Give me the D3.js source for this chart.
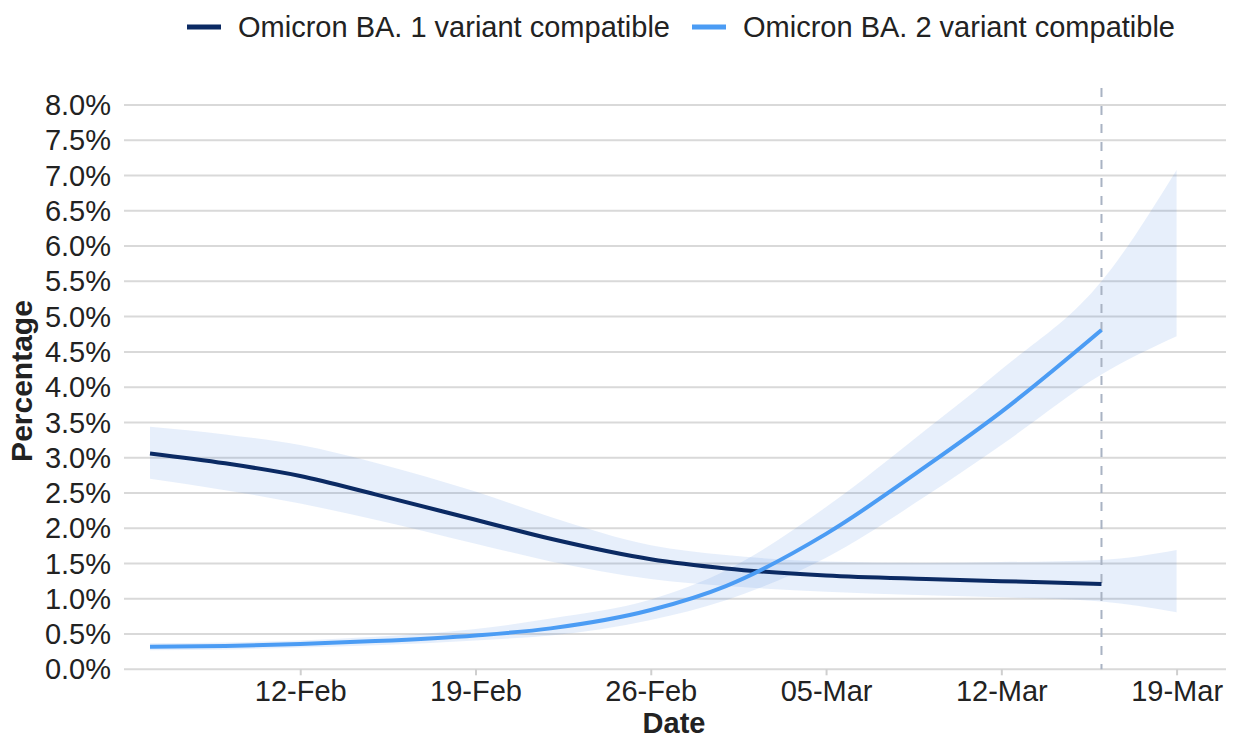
<!DOCTYPE html>
<html>
<head>
<meta charset="utf-8">
<script src="https://cdn.jsdelivr.net/npm/d3@7"></script>
<style>
  body { margin: 0; background: #fff; }
  text { font-family: "Liberation Sans", Arial, sans-serif; }
</style>
</head>
<body>
<div id="chart"></div>
<script>
// Data (percent)
const dates = ["2022-02-06", "2022-02-09", "2022-02-12", "2022-02-15", "2022-02-19", "2022-02-22",
               "2022-02-26", "2022-03-01", "2022-03-05", "2022-03-09", "2022-03-12", "2022-03-16", "2022-03-19"];

const ba1 = [3.06, 2.92, 2.74, 2.48, 2.12, 1.85, 1.56, 1.43, 1.33, 1.28, 1.25, 1.21, null];
const ba1Upper = [3.44, 3.33, 3.18, 2.93, 2.52, 2.16, 1.76, 1.62, 1.53, 1.51, 1.52, 1.55, 1.69];
const ba1Lower = [2.70, 2.54, 2.35, 2.12, 1.78, 1.53, 1.28, 1.18, 1.10, 1.05, 1.02, 0.96, 0.81];

const ba2 = [0.32, 0.33, 0.36, 0.40, 0.48, 0.58, 0.84, 1.18, 1.92, 2.88, 3.65, 4.81, null];
const ba2Upper = [0.37, 0.38, 0.41, 0.46, 0.57, 0.72, 0.99, 1.40, 2.30, 3.40, 4.25, 5.50, 7.08];
const ba2Lower = [0.27, 0.28, 0.31, 0.34, 0.41, 0.48, 0.70, 0.98, 1.58, 2.46, 3.18, 4.18, 4.72];

const seriesNames = ["Omicron BA. 1 variant compatible", "Omicron BA. 2 variant compatible"];
const xTicks = ["2022-02-12", "2022-02-19", "2022-02-26", "2022-03-05", "2022-03-12", "2022-03-19"];
const cutoffDate = "2022-03-16";
const yTicks = d3.range(0, 8.01, 0.5);

const colors = ["#0b2a63", "#4b9cf4"];

const width = 1233, height = 740;
const parse = d3.timeParse("%Y-%m-%d");

const svg = d3.select("#chart")
    .append("svg")
    .attr("width", width)
    .attr("height", height);

// scales
const x = d3.scaleTime()
    .domain([parse(dates[0]), parse(dates[dates.length - 1])])
    .range([150, 1176.6]);

const y = d3.scaleLinear()
    .domain([0, 8])
    .range([669.3, 105]);

// gridlines
svg.append("g")
    .selectAll("line")
    .data(yTicks)
    .enter()
    .append("line")
    .attr("x1", 124).attr("x2", 1226)
    .attr("y1", d => y(d)).attr("y2", d => y(d))
    .attr("stroke", "#d9d9d9")
    .attr("stroke-width", 2);

// y tick labels
svg.append("g")
    .selectAll("text")
    .data(yTicks)
    .enter()
    .append("text")
    .attr("x", 111)
    .attr("y", d => y(d))
    .attr("dy", "0.35em")
    .attr("text-anchor", "end")
    .attr("fill", "#222")
    .style("font-size", "29px")
    .text(d => d.toFixed(1) + "%");

// x axis
const xAxis = svg.append("g")
    .attr("transform", `translate(0, ${y(0)})`)
    .call(d3.axisBottom(x)
        .tickValues(xTicks.map(parse))
        .tickFormat(d3.timeFormat("%d-%b"))
        .tickSize(6)
        .tickPadding(5));
xAxis.select(".domain").remove();
xAxis.selectAll(".tick line").attr("stroke", "#cfcfcf").attr("stroke-width", 2);
xAxis.selectAll(".tick text")
    .attr("fill", "#222")
    .style("font-size", "29px")
    .style("font-family", "'Liberation Sans', Arial, sans-serif");

// axis titles
svg.append("text")
    .attr("x", 674)
    .attr("y", 733)
    .attr("text-anchor", "middle")
    .attr("fill", "#222")
    .style("font-size", "29px")
    .style("font-weight", "bold")
    .text("Date");

svg.append("text")
    .attr("transform", "rotate(-90)")
    .attr("x", -381)
    .attr("y", 32)
    .attr("text-anchor", "middle")
    .attr("fill", "#222")
    .style("font-size", "30px")
    .style("font-weight", "bold")
    .text("Percentage");

// confidence ribbons
const bands = [
    dates.map((d, i) => ({ date: parse(d), lo: ba1Lower[i], hi: ba1Upper[i] })),
    dates.map((d, i) => ({ date: parse(d), lo: ba2Lower[i], hi: ba2Upper[i] }))
];

const area = d3.area()
    .x(d => x(d.date))
    .y0(d => y(d.lo))
    .y1(d => y(d.hi))
    .curve(d3.curveMonotoneX);

svg.append("g")
    .selectAll("path")
    .data(bands)
    .enter()
    .append("path")
    .attr("d", area)
    .attr("fill", "#3a7be0")
    .attr("fill-opacity", 0.12);

// cutoff line
svg.append("line")
    .attr("x1", x(parse(cutoffDate))).attr("x2", x(parse(cutoffDate)))
    .attr("y1", 88).attr("y2", y(0))
    .attr("stroke", "#a9b3c3")
    .attr("stroke-width", 2)
    .attr("stroke-dasharray", "9,9");

// central estimate lines
const lines = [
    dates.map((d, i) => ({ date: parse(d), v: ba1[i] })),
    dates.map((d, i) => ({ date: parse(d), v: ba2[i] }))
];

const line = d3.line()
    .defined(d => d.v !== null)
    .x(d => x(d.date))
    .y(d => y(d.v))
    .curve(d3.curveMonotoneX);

svg.append("g")
    .selectAll("path")
    .data(lines)
    .enter()
    .append("path")
    .attr("d", line)
    .attr("fill", "none")
    .attr("stroke", (d, i) => colors[i])
    .attr("stroke-width", 4);

// legend
const legendX = [187, 692];
seriesNames.forEach((name, i) => {
    svg.append("line")
        .attr("x1", legendX[i]).attr("x2", legendX[i] + 34)
        .attr("y1", 27).attr("y2", 27)
        .attr("stroke", colors[i])
        .attr("stroke-width", 5);

    svg.append("text")
        .attr("x", legendX[i] + 51)
        .attr("y", 27)
        .attr("dy", "0.35em")
        .attr("fill", "#222")
        .style("font-size", "29px")
        .text(name);
});
</script>
</body>
</html>
